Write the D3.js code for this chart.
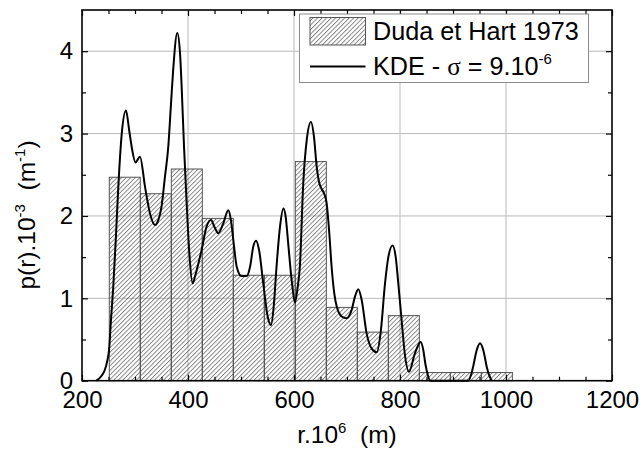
<!DOCTYPE html>
<html><head><meta charset="utf-8">
<script src="https://cdn.jsdelivr.net/npm/d3@7"></script>
<style>
body{margin:0;background:#fff;}
svg{display:block;}
text{font-family:Arial,"Liberation Sans",sans-serif;fill:#000;}
</style>
</head><body>
<svg id="chart" width="643" height="450"></svg>
<script>
// ---- data ----
const binEdges = [251.5, 310, 368.5, 427, 485.5, 544, 602.5, 661, 719.5, 778, 836.5, 895, 953.5, 1012];
const binHeights = [2.47, 2.27, 2.57, 1.97, 1.28, 1.28, 2.66, 0.89, 0.59, 0.79, 0.099, 0.099, 0.099];
const kdeR = [227, 237, 243, 248, 251, 254.7, 259, 264, 268.5, 275, 283, 289, 293.7, 301, 309.4, 319, 328.3, 337.7, 344, 350, 356.6, 362.8, 368, 372, 379.8, 385, 388, 392.5, 397.5, 402.5, 408.8, 413, 419.5, 425.8, 435, 443.4, 449.7, 457, 466.6, 476, 481, 485.5, 492, 501, 510.7, 517, 523.2, 528.3, 534, 542, 550.3, 556.6, 561.7, 567, 573.6, 580, 584.3, 589, 595.6, 601.9, 607, 611, 617.5, 624, 632, 637.7, 642.8, 647.7, 652, 657, 661.7, 666.6, 671, 676, 680.6, 690, 699.4, 708.8, 715, 721.4, 727.7, 737, 746.6, 756, 764, 771.7, 778, 786, 791.9, 796.8, 803, 809, 817, 828, 839, 844, 848, 852, 857, 929, 934, 938, 944.7, 951, 957.2, 963.6, 968, 973];
const kdeP = [0, 0.06, 0.13, 0.25, 0.37, 0.74, 1.14, 1.75, 2.35, 3.0, 3.28, 3.04, 2.84, 2.65, 2.72, 2.35, 2.03, 1.89, 1.95, 2.11, 2.48, 2.84, 3.37, 3.77, 4.22, 3.97, 3.57, 2.84, 2.15, 1.55, 1.18, 1.26, 1.42, 1.59, 1.87, 1.95, 1.87, 1.79, 1.91, 2.07, 1.95, 1.71, 1.38, 1.27, 1.27, 1.38, 1.63, 1.70, 1.59, 1.18, 0.78, 0.676, 0.9, 1.38, 1.87, 2.09, 1.99, 1.67, 1.22, 0.95, 1.14, 1.38, 2.4, 2.92, 3.14, 2.96, 2.6, 2.40, 2.33, 2.27, 2.15, 1.79, 1.38, 1.06, 0.9, 0.78, 0.757, 0.86, 1.02, 1.11, 0.98, 0.575, 0.39, 0.345, 0.615, 1.18, 1.5, 1.64, 1.5, 1.18, 0.74, 0.33, 0.11, 0.33, 0.47, 0.37, 0.2, 0.08, 0, 0, 0.07, 0.17, 0.37, 0.454, 0.37, 0.17, 0.07, 0];
const xMajorTicks = [200, 400, 600, 800, 1000, 1200];
const xMinorTicks = [250, 300, 350, 450, 500, 550, 650, 700, 750, 850, 900, 950, 1050, 1100, 1150];
const yMajorTicks = [0, 1, 2, 3, 4];
const yMinorTicks = [0.5, 1.5, 2.5, 3.5];
const xGrid = [400, 600, 800, 1000];
const yGrid = [1, 2, 3, 4];
const legendHist = "Duda et Hart 1973";

// ---- layout ----
const svg = d3.select("#chart");
const L = 82, R = 612, T = 10, B = 380.7;
const x = d3.scaleLinear().domain([200, 1200]).range([L, R]);
const y = d3.scaleLinear().domain([0, 4.5]).range([B, T]);

const defs = svg.append("defs");
const pat = defs.append("pattern").attr("id", "hatch")
  .attr("patternUnits", "userSpaceOnUse").attr("width", 3.2).attr("height", 10)
  .attr("patternTransform", "rotate(45)");
pat.append("line").attr("x1", 0.5).attr("y1", -1).attr("x2", 0.5).attr("y2", 11)
  .attr("stroke", "#444").attr("stroke-width", 0.7);

// grid
const g = svg.append("g");
g.selectAll(".gx").data(xGrid).join("line")
  .attr("x1", d => x(d)).attr("x2", d => x(d)).attr("y1", T).attr("y2", B)
  .attr("stroke", "#b9b9b9").attr("stroke-width", 1);
g.selectAll(".gy").data(yGrid).join("line")
  .attr("x1", L).attr("x2", R).attr("y1", d => y(d)).attr("y2", d => y(d))
  .attr("stroke", "#b9b9b9").attr("stroke-width", 1);

// bars
const bars = binHeights.map((h, i) => ({x0: binEdges[i], x1: binEdges[i + 1], h}));
svg.append("g").selectAll("rect").data(bars).join("rect")
  .attr("x", d => x(d.x0)).attr("width", d => x(d.x1) - x(d.x0))
  .attr("y", d => y(d.h)).attr("height", d => y(0) - y(d.h))
  .attr("fill", "url(#hatch)").attr("stroke", "#555").attr("stroke-width", 1);

// KDE curve
const pts = kdeR.map((r, i) => [r, kdeP[i]]);
svg.append("path").datum(pts)
  .attr("d", d3.line().x(d => x(d[0])).y(d => y(d[1])).curve(d3.curveMonotoneX))
  .attr("fill", "none").attr("stroke", "#000").attr("stroke-width", 2);

// axes
function styleAxis(sel) {
  sel.select(".domain").remove();
  sel.selectAll(".tick line").attr("stroke", "#000").attr("stroke-width", 1.2);
  sel.selectAll(".tick text").attr("font-size", 24).attr("font-family", "Arial, 'Liberation Sans', sans-serif").attr("fill", "#000");
}
svg.append("g").attr("transform", `translate(0,${B})`)
  .call(d3.axisBottom(x).tickValues(xMajorTicks).tickSize(-6).tickPadding(10.5).tickFormat(d3.format("d"))).call(styleAxis);
svg.append("g").attr("transform", `translate(0,${B})`)
  .call(d3.axisBottom(x).tickValues(xMinorTicks).tickSize(-4).tickFormat("")).call(styleAxis);
svg.append("g").attr("transform", `translate(0,${T})`)
  .call(d3.axisTop(x).tickValues(xMajorTicks).tickSize(-6).tickFormat("")).call(styleAxis);
svg.append("g").attr("transform", `translate(0,${T})`)
  .call(d3.axisTop(x).tickValues(xMinorTicks).tickSize(-4).tickFormat("")).call(styleAxis);
svg.append("g").attr("transform", `translate(${L},0)`)
  .call(d3.axisLeft(y).tickValues(yMajorTicks).tickSize(-6).tickPadding(9).tickFormat(d3.format("d"))).call(styleAxis);
svg.append("g").attr("transform", `translate(${L},0)`)
  .call(d3.axisLeft(y).tickValues(yMinorTicks).tickSize(-4).tickFormat("")).call(styleAxis);
svg.append("g").attr("transform", `translate(${R},0)`)
  .call(d3.axisRight(y).tickValues(yMajorTicks).tickSize(-6).tickFormat("")).call(styleAxis);
svg.append("g").attr("transform", `translate(${R},0)`)
  .call(d3.axisRight(y).tickValues(yMinorTicks).tickSize(-4).tickFormat("")).call(styleAxis);

svg.append("rect").attr("x", L).attr("y", T).attr("width", R - L).attr("height", B - T)
  .attr("fill", "none").attr("stroke", "#000").attr("stroke-width", 1.6);

// legend
const lg = svg.append("g");
lg.append("rect").attr("x", 299.5).attr("y", 14).attr("width", 289).attr("height", 68.5)
  .attr("fill", "#fff").attr("stroke", "#8c8c8c").attr("stroke-width", 1);
lg.append("rect").attr("x", 310).attr("y", 17.5).attr("width", 55.5).attr("height", 27.5)
  .attr("fill", "url(#hatch)").attr("stroke", "#555").attr("stroke-width", 1);
lg.append("line").attr("x1", 310).attr("x2", 365.5).attr("y1", 66.5).attr("y2", 66.5)
  .attr("stroke", "#000").attr("stroke-width", 2);
lg.append("text").attr("x", 373).attr("y", 39.5).attr("font-size", 25.2).text(legendHist);
const t2 = lg.append("text").attr("x", 373).attr("y", 75).attr("font-size", 25.2);
t2.append("tspan").text("KDE - ");
t2.append("tspan").attr("font-family", "'Liberation Serif', 'Times New Roman', serif").text("σ");
t2.append("tspan").text(" = 9.10");
t2.append("tspan").attr("font-size", 15).attr("dy", -11).text("-6");

// axis titles
const xt = svg.append("text").attr("x", 347).attr("y", 443).attr("text-anchor", "middle").attr("font-size", 24.5);
xt.append("tspan").text("r.10");
xt.append("tspan").attr("font-size", 15).attr("dy", -10).text("6");
xt.append("tspan").attr("dy", 10).text("\u00A0\u00A0(m)");

const yt = svg.append("text").attr("transform", "translate(35,215) rotate(-90)").attr("text-anchor", "middle").attr("font-size", 24.5);
yt.append("tspan").text("p(r).10");
yt.append("tspan").attr("font-size", 15).attr("dy", -10).text("-3");
yt.append("tspan").attr("dy", 10).text("\u00A0\u00A0(m");
yt.append("tspan").attr("font-size", 15).attr("dy", -10).text("-1");
yt.append("tspan").attr("dy", 10).text(")");
</script>
</body></html>
